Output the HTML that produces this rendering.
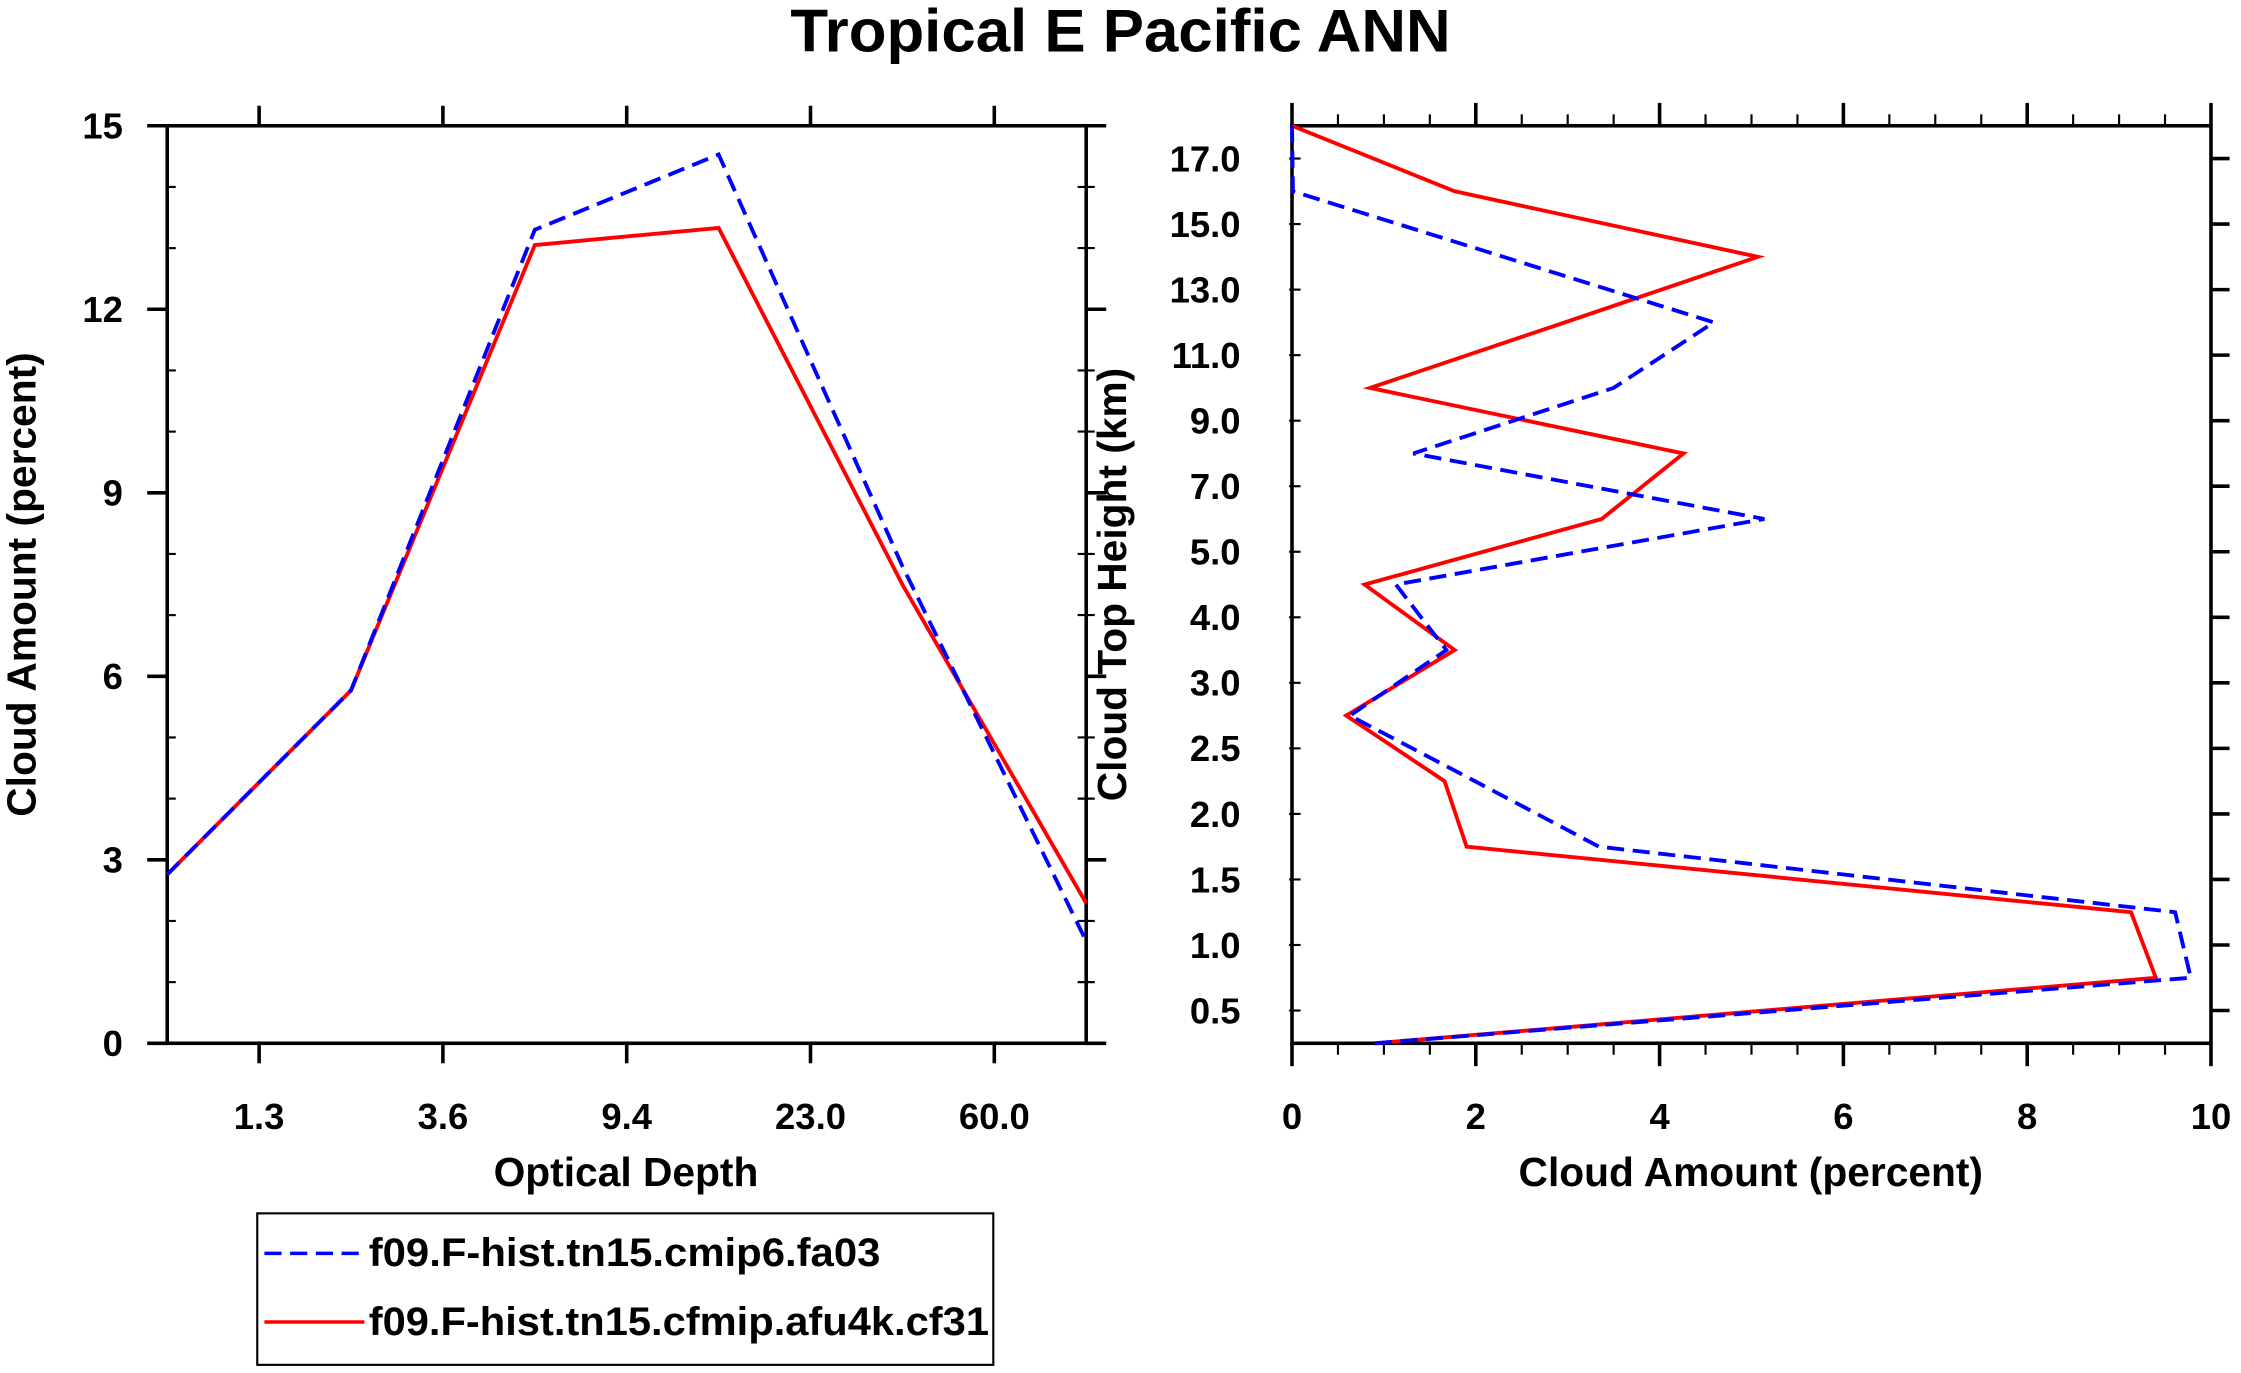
<!DOCTYPE html>
<html><head><meta charset="utf-8"><style>
html,body{margin:0;padding:0;background:#fff;}
svg{display:block;font-family:"Liberation Sans",sans-serif;font-weight:bold;}
</style></head><body>
<svg id="c" width="2241" height="1373" viewBox="0 0 1568 960.7" preserveAspectRatio="none" xmlns="http://www.w3.org/2000/svg">
<text x="553" y="36" font-size="42" textLength="462" lengthAdjust="spacingAndGlyphs">Tropical E Pacific ANN</text>
<g id="L"></g><g id="R"></g>
<g>
<rect x="180" y="849" width="515" height="106" fill="none" stroke="#000" stroke-width="1.5"/>
<line x1="185" y1="877" x2="255" y2="877" stroke="#00f" stroke-width="2.5" stroke-dasharray="12,6"/>
<text x="258" y="886" font-size="28" textLength="358" lengthAdjust="spacingAndGlyphs">f09.F-hist.tn15.cmip6.fa03</text>
<line x1="185" y1="925" x2="255" y2="925" stroke="#f00" stroke-width="2.5"/>
<text x="258" y="934" font-size="28" textLength="434" lengthAdjust="spacingAndGlyphs">f09.F-hist.tn15.cfmip.afu4k.cf31</text>
</g>
</svg>
<script>
const odLabels=["1.3","3.6","9.4","23.0","60.0"];
const leftBlue=[2.76,5.77,13.3,14.53,7.8,1.67];
const leftRed=[2.76,5.77,13.05,13.33,7.5,2.29];
const leftYTicks=[0,3,6,9,12,15];
const cthLabels=["0.5","1.0","1.5","2.0","2.5","3.0","4.0","5.0","7.0","9.0","11.0","13.0","15.0","17.0"];
const rightBlue=[0.9,9.78,9.61,3.34,1.99,0.63,1.68,1.13,5.14,1.32,3.5,4.59,2.3,0.01,0];
const rightRed=[0.9,9.4,9.13,1.9,1.66,0.59,1.77,0.79,3.37,4.26,0.85,2.97,5.07,1.77,0];
const rightXTicks=[0,2,4,6,8,10];
const NS="http://www.w3.org/2000/svg";
const FT=25.5, FA=28.5;
function mk(p,tag,a){const e=document.createElementNS(NS,tag);for(const k in a)e.setAttribute(k,a[k]);p.appendChild(e);return e;}
function ln(p,x1,y1,x2,y2,w){const e=mk(p,'line',{x1,y1,x2,y2,stroke:'#000','stroke-width':w||2.5});

return e;}
// LEFT
const L=document.getElementById('L');
const lx0=117,lx1=760,ly0=730,ly1=88;
const lxs=i=>lx0+(lx1-lx0)*i/5, lys=v=>ly0-(ly0-ly1)*v/15;
for(let v=0;v<=15;v++){const y=lys(v);
 if(v%3==0){ln(L,lx0-14,y,lx0,y);ln(L,lx1,y,lx1+14,y);
  const t=mk(L,'text',{x:86,y:y+9,'font-size':FT,'text-anchor':'end'});t.textContent=v;
  
  }
 else{ln(L,lx0,y,lx0+6,y,1.5);ln(L,lx1-6,y,lx1+6,y,1.5);}}
odLabels.forEach((s,i)=>{const x=lxs(i+0.5);ln(L,x,ly1-14,x,ly1);ln(L,x,ly0,x,ly0+14);
 const t=mk(L,'text',{x:x,y:790,'font-size':FT,'text-anchor':'middle'});t.textContent=s;
 
 });
const lf=mk(L,'rect',{x:lx0,y:ly1,width:lx1-lx0,height:ly0-ly1,fill:'none',stroke:'#000','stroke-width':2.5});


let t=mk(L,'text',{x:438,y:830,'font-size':FA,'text-anchor':'middle'});t.textContent='Optical Depth';


t=mk(L,'text',{transform:'translate(25,409) rotate(-90)','font-size':FA,'text-anchor':'middle'});t.textContent='Cloud Amount (percent)';


let p=mk(L,'polyline',{points:leftRed.map((v,i)=>lxs(i)+','+lys(v)).join(' '),fill:'none',stroke:'#f00','stroke-width':2.7});


p=mk(L,'polyline',{points:leftBlue.map((v,i)=>lxs(i)+','+lys(v)).join(' '),fill:'none',stroke:'#00f','stroke-width':2.7,'stroke-dasharray':'12,6'});


// RIGHT
const R=document.getElementById('R');
const rx0=904,rx1=1547,ry0=730,ry1=88;
const rxs=v=>rx0+(rx1-rx0)*v/10, rys=j=>ry0-(ry0-ry1)*j/14;
for(let k=0;k<=20;k++){const v=k/2,x=rxs(v);
 if(k%4==0){ln(R,x,ry1-16,x,ry1);ln(R,x,ry0,x,ry0+16);}else{ln(R,x,ry1-8,x,ry1,1.5);ln(R,x,ry0,x,ry0+8,1.5);}}
rightXTicks.forEach(v=>{const t=mk(R,'text',{x:rxs(v),y:790,'font-size':FT,'text-anchor':'middle'});t.textContent=v;
 
 });
cthLabels.forEach((s,i)=>{const y=rys(i+0.5);ln(R,rx1,y,rx1+13,y);ln(R,rx0-2,y,rx0+6,y,1.5);
 const t=mk(R,'text',{x:868,y:y+9,'font-size':FT,'text-anchor':'end'});t.textContent=s;
 
 });
const rf=mk(R,'rect',{x:rx0,y:ry1,width:rx1-rx0,height:ry0-ry1,fill:'none',stroke:'#000','stroke-width':2.5});


t=mk(R,'text',{x:1225,y:830,'font-size':FA,'text-anchor':'middle'});t.textContent='Cloud Amount (percent)';


t=mk(R,'text',{transform:'translate(788,409) rotate(-90)','font-size':FA,'text-anchor':'middle'});t.textContent='Cloud Top Height (km)';


p=mk(R,'polyline',{points:rightRed.map((v,j)=>rxs(v)+','+rys(j)).join(' '),fill:'none',stroke:'#f00','stroke-width':2.7});


p=mk(R,'polyline',{points:rightBlue.map((v,j)=>rxs(v)+','+rys(j)).join(' '),fill:'none',stroke:'#00f','stroke-width':2.7,'stroke-dasharray':'12,6'});


</script>
</body></html>
